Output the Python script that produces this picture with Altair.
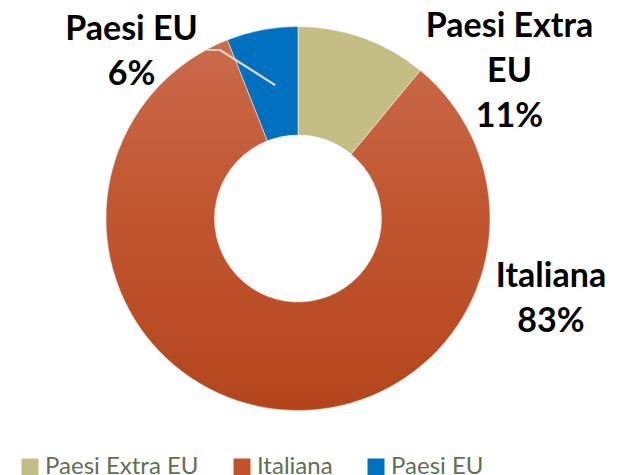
import altair as alt
import pandas as pd

categories = ["Paesi Extra EU", "Italiana", "Paesi EU"]
values = [11, 83, 6]
colors = ["#C4BD84", "#C0532B", "#0070C0"]
label_texts = ["Paesi Extra\nEU\n11%", "Italiana\n83%", "Paesi EU\n6%"]

df = pd.DataFrame({"categoria": categories, "valore": values, "ordine": list(range(len(categories)))})

base = (
    alt.Chart(df)
    .transform_window(fine="sum(valore)", sort=[alt.SortField("ordine")], frame=[None, 0])
    .transform_calculate(inizio="datum.fine - datum.valore")
)

theta_scale = alt.Scale(domain=[0, 100])

arcs = base.mark_arc(innerRadius=83.5, outerRadius=192, stroke="white", strokeWidth=0.5).encode(
    theta=alt.Theta("inizio:Q", scale=theta_scale),
    theta2="fine:Q",
    color=alt.Color(
        "categoria:N",
        scale=alt.Scale(domain=categories, range=colors),
        sort=categories,
        legend=alt.Legend(
            title=None,
            orient="none",
            legendX=10,
            legendY=447,
            direction="horizontal",
            columns=3,
            columnPadding=31,
            symbolType="square",
            symbolSize=289,
            symbolStrokeWidth=0,
            labelFont="Lato",
            labelFontSize=24,
            labelColor="#617052",
            labelOffset=3,
            labelLimit=400,
            padding=0,
        ),
    ),
)

grad = base.transform_filter(alt.datum.categoria == "Italiana").mark_arc(
    innerRadius=83.5,
    outerRadius=192,
    stroke="white",
    strokeWidth=0.5,
    color=alt.LinearGradient(
        gradient="linear",
        stops=[
            alt.GradientStop(color="#CA6B4C", offset=0),
            alt.GradientStop(color="#C25833", offset=0.4),
            alt.GradientStop(color="#B4451B", offset=1),
        ],
        x1=0, x2=0, y1=0, y2=1,
    ),
).encode(
    theta=alt.Theta("inizio:Q", scale=theta_scale),
    theta2="fine:Q",
)

leader1 = alt.Chart(df).mark_rule(color="#D8D3B8", strokeWidth=2).encode(
    x=alt.value(199), x2=alt.value(212), y=alt.value(42), y2=alt.value(42)
)
leader2 = alt.Chart(df).mark_rule(color="#D8D3B8", strokeWidth=2).encode(
    x=alt.value(212), x2=alt.value(267), y=alt.value(42), y2=alt.value(77)
)

label_pos = [(501.5, 29), (543, 279), (123.5, 32)]
text_layers = []
for txt, (px, py) in zip(label_texts, label_pos):
    text_layers.append(
        alt.Chart(pd.DataFrame({"testo": [txt]}))
        .mark_text(
            font="Lato", fontSize=34, fontWeight="bold", color="#000000",
            align="center", baseline="alphabetic", lineBreak="\n", lineHeight=45,
        )
        .encode(text="testo:N", x=alt.value(px), y=alt.value(py))
    )

chart = (
    alt.layer(arcs, grad, leader1, leader2, *text_layers)
    .properties(width=580, height=421, padding=0)
    .configure_view(stroke=None)
)

chart.save("out.html", embed_options={"renderer": "svg", "actions": False})
